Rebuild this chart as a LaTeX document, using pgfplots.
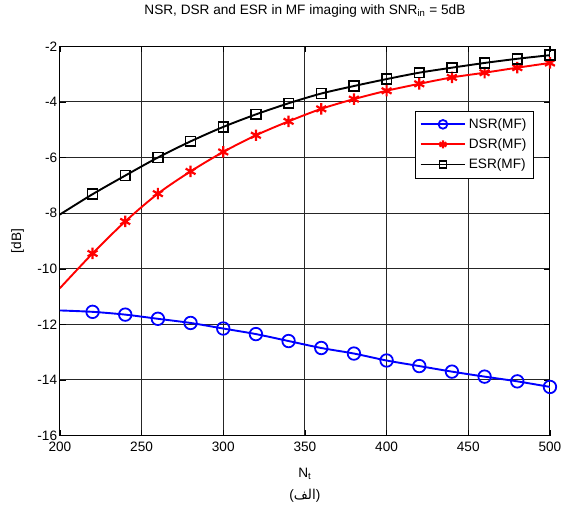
\documentclass[border=0pt]{standalone}
\usepackage{fontspec}
\setmainfont{Liberation Sans}
\newfontfamily\arabicfont[Script=Arabic]{DejaVu Sans}
\TeXXeTstate=1
\usepackage{pgfplots}
\pgfplotsset{compat=1.18}

\begin{document}
\begin{tikzpicture}
\begin{axis}[
    name=main,
    width=360pt, height=286pt,
    scale only axis,
    xmin=200, xmax=500,
    ymin=-16, ymax=-2,
    xtick={200,250,...,500},
    ytick={-16,-14,...,-2},
    yticklabels={-16,-14,-12,-10,-8,-6,-4,-2},
    /pgf/number format/assume math mode=true,
    grid=major,
    major grid style={black!85, line width=0.7pt},
    axis line style={black, line width=0.7pt},
    tick style={black},
    tick align=inside,
    xticklabel style={yshift=-1.5pt},
    yticklabel style={xshift=1.5pt},
    title={NSR, DSR and ESR in MF imaging with SNR\textsubscript{in} = 5dB},
    title style={at={(axis description cs:0.5,1)}, anchor=center, yshift=20pt},
    xlabel={N\textsubscript{t}},
    xlabel style={at={(axis description cs:0.5,0)}, anchor=center, yshift=-28pt},
    ylabel={[dB]},
    ylabel style={at={(axis description cs:0,0.5)}, anchor=center, yshift=31pt},
    legend style={at={(0.968,0.835)}, anchor=north east, draw=black,
        line width=0.6pt, row sep=2pt, inner sep=3.5pt},
    legend cell align=left,
    legend image code/.code={%
        \draw[#1, mark=none] (0cm,0cm) -- (1.15cm,0cm);
        \draw[#1, mark indices={1}, every mark/.append style={scale=0.7}]
        plot coordinates {(0.575cm,0cm)};},
]
\addplot[blue, line width=1.4pt, smooth, mark=o, mark size=4.6pt,
    mark indices={2,...,16}, mark options={solid, line width=1.3pt}]
coordinates {
    (200,-11.50) (220,-11.55) (240,-11.65) (260,-11.80) (280,-11.95)
    (300,-12.15) (320,-12.35) (340,-12.60) (360,-12.85) (380,-13.05)
    (400,-13.30) (420,-13.50) (440,-13.70) (460,-13.88) (480,-14.05)
    (500,-14.25)
};
\addlegendentry{NSR(MF)}

\addplot[red, line width=1.4pt, smooth, mark=asterisk, mark size=4.2pt,
    mark indices={2,...,16}, mark options={solid, line width=1.6pt}]
coordinates {
    (200,-10.70) (220,-9.45) (240,-8.30) (260,-7.30) (280,-6.50)
    (300,-5.80) (320,-5.20) (340,-4.70) (360,-4.25) (380,-3.90)
    (400,-3.60) (420,-3.35) (440,-3.12) (460,-2.95) (480,-2.77)
    (500,-2.60)
};
\addlegendentry{DSR(MF)}

\addplot[black, line width=1.4pt, smooth, mark=square, mark size=3.6pt,
    mark indices={2,...,16}, mark options={solid, line width=1.2pt}]
coordinates {
    (200,-8.05) (220,-7.32) (240,-6.65) (260,-6.00) (280,-5.42)
    (300,-4.90) (320,-4.45) (340,-4.05) (360,-3.70) (380,-3.43)
    (400,-3.18) (420,-2.95) (440,-2.77) (460,-2.60) (480,-2.45)
    (500,-2.32)
};
\addlegendentry{ESR(MF)}
\end{axis}
\node[anchor=center] at ([yshift=-44pt]main.south)
    {({\arabicfont\beginR الف\endR})};
\path ([xshift=-44pt,yshift=-53pt]main.south west)
    rectangle ([xshift=14pt,yshift=30pt]main.north east);
\end{tikzpicture}
\end{document}
